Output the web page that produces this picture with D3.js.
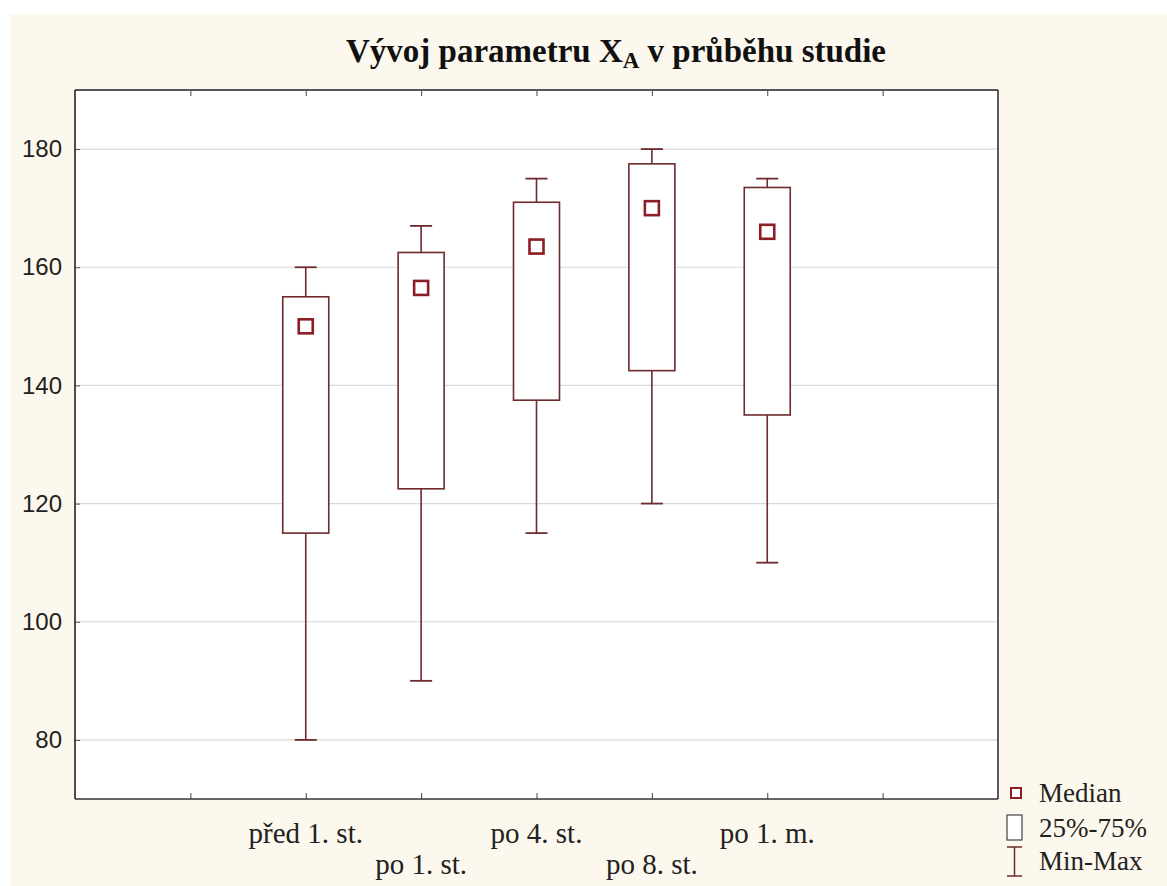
<!DOCTYPE html>
<html>
<head>
<meta charset="utf-8">
<script src="https://cdn.jsdelivr.net/npm/d3@7"></script>
<style>
  body { margin: 0; background: #fff; }
  svg { display: block; }
</style>
</head>
<body>
<svg width="1167" height="886"></svg>
<script>
var width = 1167;
var height = 886;

// values
var categories = ["před 1. st.", "po 1. st.", "po 4. st.", "po 8. st.", "po 1. m."]
var mins = [80, 90, 115, 120, 110]
var q1s = [115, 122.5, 137.5, 142.5, 135]
var medians = [150, 156.5, 163.5, 170, 166]
var q3s = [155, 162.5, 171, 177.5, 173.5]
var maxs = [160, 167, 175, 180, 175]
var yTicks = [80, 100, 120, 140, 160, 180]

var boxColor = "#6e2a2c"
var medColor = "#8c1c26"

// plot frame (window.top is reserved, so prefix these)
var pLeft = 75, pRight = 998, pTop = 90, pBottom = 799

var svg = d3.select("svg")

// cream page
svg.append("rect")
    .attr("x", 10).attr("y", 14)
    .attr("width", width - 10).attr("height", height - 14)
    .attr("fill", "#fcf8ee")

svg.append("rect")
    .attr("x", pLeft).attr("y", pTop)
    .attr("width", pRight - pLeft).attr("height", pBottom - pTop)
    .attr("fill", "#fff")

var x = d3.scaleLinear().domain([0, 8]).range([pLeft, pRight])
var y = d3.scaleLinear().domain([70, 190]).range([pBottom, pTop])

// grid
svg.append("g")
    .selectAll("line")
    .data(yTicks)
    .enter()
    .append("line")
    .attr("x1", pLeft).attr("x2", pRight)
    .attr("y1", function(d) { return y(d) })
    .attr("y2", function(d) { return y(d) })
    .attr("stroke", "#d9d9d9")
    .attr("stroke-width", 1.2)

// y axis labels + small ticks
var yAxis = d3.axisLeft(y).tickValues(yTicks).tickSize(-5).tickPadding(13)
var gy = svg.append("g").attr("transform", "translate(" + pLeft + ",0)").call(yAxis)
gy.select(".domain").remove()
gy.selectAll(".tick line").attr("stroke", "#555")
gy.selectAll("text")
    .attr("font-family", "Liberation Sans, Arial, sans-serif")
    .attr("font-size", 24)
    .attr("fill", "#222")

// top + bottom inner ticks
var pos = [1, 2, 3, 4, 5, 6, 7]
var topAxis = d3.axisTop(x).tickValues(pos).tickSize(-6).tickFormat("")
var gt = svg.append("g").attr("transform", "translate(0," + pTop + ")").call(topAxis)
gt.select(".domain").remove()
gt.selectAll(".tick line").attr("stroke", "#444")

var botAxis = d3.axisBottom(x).tickValues(pos).tickSize(-6).tickFormat("")
var gb = svg.append("g").attr("transform", "translate(0," + pBottom + ")").call(botAxis)
gb.select(".domain").remove()
gb.selectAll(".tick line").attr("stroke", "#444")

// boxes
var bw = 46, cw = 22, ms = 14
var boxes = svg.append("g")
    .selectAll("g")
    .data(categories)
    .enter()
    .append("g")
    .attr("transform", function(d, i) { return "translate(" + x(i + 2) + ",0)" })

boxes.append("line")
    .attr("x1", 0).attr("x2", 0)
    .attr("y1", function(d, i) { return y(maxs[i]) })
    .attr("y2", function(d, i) { return y(mins[i]) })
    .attr("stroke", boxColor).attr("stroke-width", 1.6)

boxes.append("line")
    .attr("x1", -cw / 2).attr("x2", cw / 2)
    .attr("y1", function(d, i) { return y(maxs[i]) })
    .attr("y2", function(d, i) { return y(maxs[i]) })
    .attr("stroke", boxColor).attr("stroke-width", 1.8)

boxes.append("line")
    .attr("x1", -cw / 2).attr("x2", cw / 2)
    .attr("y1", function(d, i) { return y(mins[i]) })
    .attr("y2", function(d, i) { return y(mins[i]) })
    .attr("stroke", boxColor).attr("stroke-width", 1.8)

boxes.append("rect")
    .attr("x", -bw / 2)
    .attr("y", function(d, i) { return y(q3s[i]) })
    .attr("width", bw)
    .attr("height", function(d, i) { return y(q1s[i]) - y(q3s[i]) })
    .attr("fill", "#fff")
    .attr("stroke", boxColor).attr("stroke-width", 1.6)

boxes.append("rect")
    .attr("x", -ms / 2)
    .attr("y", function(d, i) { return y(medians[i]) - ms / 2 })
    .attr("width", ms).attr("height", ms)
    .attr("fill", "#fff")
    .attr("stroke", medColor).attr("stroke-width", 2.6)

// frame
svg.append("line").attr("x1", pLeft).attr("x2", pRight).attr("y1", pTop).attr("y2", pTop)
    .attr("stroke", "#555").attr("stroke-width", 2.2)
svg.append("line").attr("x1", pLeft).attr("x2", pRight).attr("y1", pBottom).attr("y2", pBottom)
    .attr("stroke", "#333").attr("stroke-width", 1.6)
svg.append("line").attr("x1", pLeft).attr("x2", pLeft).attr("y1", pTop).attr("y2", pBottom)
    .attr("stroke", "#222").attr("stroke-width", 1.6)
svg.append("line").attr("x1", pRight).attr("x2", pRight).attr("y1", pTop).attr("y2", pBottom)
    .attr("stroke", "#333").attr("stroke-width", 1.6)

var serif = "Liberation Serif, Times New Roman, serif"

// x labels, staggered on two rows
svg.append("g")
    .selectAll("text")
    .data(categories)
    .enter()
    .append("text")
    .attr("x", function(d, i) { return x(i + 2) })
    .attr("y", function(d, i) { return i % 2 == 0 ? 843 : 874 })
    .attr("text-anchor", "middle")
    .attr("font-family", serif)
    .attr("font-size", 29)
    .attr("fill", "#222")
    .text(function(d) { return d })

// title
var title = svg.append("text")
    .attr("x", 616).attr("y", 62)
    .attr("text-anchor", "middle")
    .attr("font-family", serif)
    .attr("font-weight", "bold")
    .attr("font-size", 33)
    .attr("fill", "#111")
title.append("tspan").text("Vývoj parametru X")
title.append("tspan").attr("dy", 6).attr("font-size", 23).text("A")
title.append("tspan").attr("dy", -6).text(" v průběhu studie")

// legend
var lg = svg.append("g")
lg.append("rect").attr("x", 1011).attr("y", 788).attr("width", 10).attr("height", 10)
    .attr("fill", "#fff").attr("stroke", medColor).attr("stroke-width", 2)
lg.append("rect").attr("x", 1007).attr("y", 815).attr("width", 15).attr("height", 25)
    .attr("fill", "#fff").attr("stroke", "#444").attr("stroke-width", 1.2)
lg.append("line").attr("x1", 1007).attr("x2", 1022).attr("y1", 847).attr("y2", 847)
    .attr("stroke", boxColor).attr("stroke-width", 1.5)
lg.append("line").attr("x1", 1007).attr("x2", 1022).attr("y1", 876).attr("y2", 876)
    .attr("stroke", boxColor).attr("stroke-width", 1.5)
lg.append("line").attr("x1", 1014.5).attr("x2", 1014.5).attr("y1", 847).attr("y2", 876)
    .attr("stroke", boxColor).attr("stroke-width", 1.5)

var legendLabels = ["Median", "25%-75%", "Min-Max"]
var legendY = [802, 837, 870]
lg.selectAll("text.lab")
    .data(legendLabels)
    .enter()
    .append("text")
    .attr("x", 1039)
    .attr("y", function(d, i) { return legendY[i] })
    .attr("font-family", serif)
    .attr("font-size", 27)
    .attr("fill", "#222")
    .text(function(d) { return d })
</script>
</body>
</html>
